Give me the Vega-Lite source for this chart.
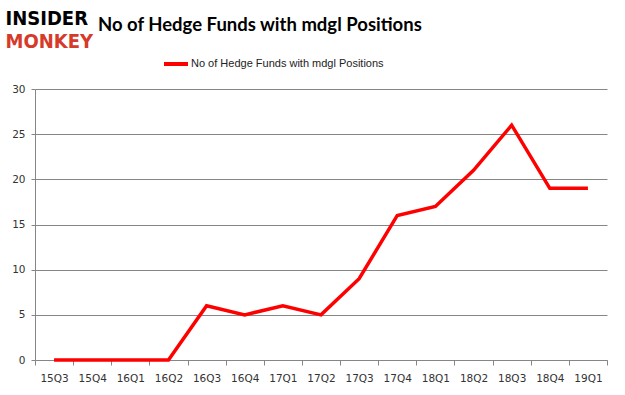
{
  "$schema": "https://vega.github.io/schema/vega-lite/v6.json",
  "width": 572,
  "height": 271,
  "autosize": {"type": "none"},
  "padding": {"left": 35, "top": 89, "right": 18, "bottom": 35},
  "background": "white",
  "view": {"stroke": null},
  "title": {
    "text": "No of Hedge Funds with mdgl Positions",
    "font": "Lato",
    "fontSize": 18.5,
    "fontWeight": "bold",
    "color": "black",
    "anchor": "start",
    "frame": "group",
    "baseline": "bottom",
    "dx": 63,
    "offset": 0,
    "dy": 45
  },
  "data": {
    "values": [
      {"q": "15Q3", "v": 0}, {"q": "15Q4", "v": 0}, {"q": "16Q1", "v": 0},
      {"q": "16Q2", "v": 0}, {"q": "16Q3", "v": 6}, {"q": "16Q4", "v": 5},
      {"q": "17Q1", "v": 6}, {"q": "17Q2", "v": 5}, {"q": "17Q3", "v": 9},
      {"q": "17Q4", "v": 16}, {"q": "18Q1", "v": 17}, {"q": "18Q2", "v": 21},
      {"q": "18Q3", "v": 26}, {"q": "18Q4", "v": 19}, {"q": "19Q1", "v": 19}
    ]
  },
  "mark": {"type": "line", "strokeWidth": 3.5, "color": "#ff0000"},
  "encoding": {
    "x": {
      "field": "q", "type": "ordinal", "sort": null,
      "scale": {"type": "band", "paddingInner": 0, "paddingOuter": 0},
      "axis": {
        "title": "MONKEY", "titleColor": "#d63a2a", "titleFont": "DejaVu Sans Condensed", "titleFontSize": 20, "titleFontWeight": "bold",
        "titleAlign": "left", "titleBaseline": "middle", "titleAngle": 0, "titleX": -30, "titleY": -319,
        "labelAngle": 0, "labelFont": "DejaVu Sans", "labelFontSize": 10.5, "labelColor": "#333333", "labelPadding": 8,
        "tickBand": "extent", "tickSize": 5, "tickColor": "#868686", "domainColor": "#868686", "grid": false
      }
    },
    "y": {
      "field": "v", "type": "quantitative",
      "scale": {"domain": [0, 30], "nice": false},
      "axis": {
        "title": "INSIDER", "titleColor": "black", "titleFont": "DejaVu Sans Condensed", "titleFontSize": 20, "titleFontWeight": "bold",
        "titleAlign": "left", "titleBaseline": "middle", "titleAngle": 0, "titleX": -30, "titleY": -71,
        "values": [0, 5, 10, 15, 20, 25, 30],
        "labelFont": "DejaVu Sans", "labelFontSize": 10.5, "labelColor": "#333333", "labelPadding": 6,
        "tickSize": 4, "tickColor": "#868686", "domainColor": "#868686", "gridColor": "#868686", "grid": true
      }
    },
    "color": {
      "datum": "No of Hedge Funds with mdgl Positions",
      "scale": {"range": ["#ff0000"]},
      "legend": {
        "title": null, "orient": "none", "legendX": 127, "legendY": -39, "labelLimit": 0,
        "symbolType": "stroke", "symbolSize": 576, "symbolStrokeWidth": 4,
        "labelFont": "Liberation Sans", "labelFontSize": 11, "labelColor": "#222222", "labelOffset": 1
      }
    }
  }
}
